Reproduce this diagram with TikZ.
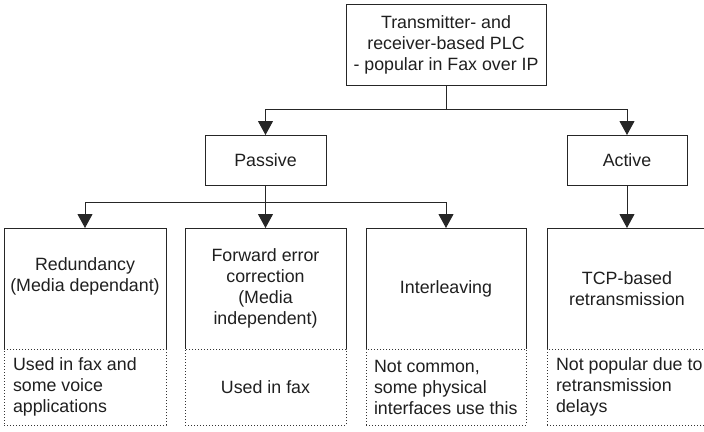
\documentclass[tikz,border=0pt]{standalone}
\usepackage{fontspec}
\setmainfont{Liberation Sans}
\usetikzlibrary{arrows.meta}
\begin{document}
\begin{tikzpicture}[x=1pt,y=-1pt,
  every node/.style={inner sep=0pt, outer sep=0pt, text=black!88,
    font=\fontsize{17.8}{21}\selectfont},
  box/.style={draw=black!85, line width=1pt, rectangle, align=center},
  upbox/.style={rectangle, minimum width=#1, minimum height=121},
  lowbox/.style={draw=black!80, dotted, line width=1pt, rectangle,
    minimum width=#1, minimum height=76},
  txt/.style={align=center},
  ltxt/.style={align=left, anchor=west},
  link/.style={draw=black!85, line width=1pt,
    -{Triangle[width=15pt,length=14pt]}}
]
\clip (0,0) rectangle (704,431);
\useasboundingbox (0,0) rectangle (704,431);

% Root and the two families
\node[box, minimum width=200, minimum height=81] (root) at (446,44.5)
  {Transmitter- and\\receiver-based PLC\\- popular in Fax over IP};
\node[box, minimum width=121, minimum height=50] (passive) at (265.5,160) {Passive};
\node[box, minimum width=120, minimum height=50] (active) at (627,160) {Active};

% Technique boxes (solid top part)
\node[upbox=162] (red) at (85,288.5) {};
\node[upbox=161] (fec) at (265.5,288.5) {};
\node[upbox=160] (intl) at (446,288.5) {};
\node[upbox=160] (tcp) at (627,288.5) {};
\foreach \n in {red,fec,intl,tcp}
  \draw[black!85, line width=1pt]
    (\n.south west) -- (\n.north west) -- (\n.north east) -- (\n.south east);

\node[txt] (redt) at (85,276) {Redundancy\\(Media dependant)};
\node[txt] (fect) at (fec.center) {Forward error\\correction\\(Media\\independent)};
\node[txt] (intlt) at (intl.center) {Interleaving};
\node[txt] (tcpt) at (tcp.center) {TCP-based\\retransmission};

% Remarks (dotted bottom part)
\node[lowbox=162] (redn) at (85,387) {};
\node[lowbox=161] (fecn) at (265.5,387) {};
\node[lowbox=160] (intln) at (446,387) {};
\node[lowbox=160] (tcpn) at (627,387) {};

\node[ltxt] (rednt) at ([xshift=9]redn.west) {Used in fax and\\some voice\\applications};
\node[txt] (fecnt) at (fecn.center) {Used in fax};
\node[ltxt] (intlnt) at ([xshift=8]intln.west) {Not common,\\some physical\\interfaces use this};
\node[ltxt] (tcpnt) at ([xshift=9]tcpn.west) {Not popular due to\\retransmission\\delays};

% Connectors
\coordinate (j1) at (446,109);
\coordinate (j2) at (265.5,202.5);
\draw[black!85, line width=1pt] (root.south) -- (j1);
\draw[link] (j1) -| (passive.north);
\draw[link] (j1) -| (active.north);
\draw[black!85, line width=1pt] (passive.south) -- (j2);
\draw[link] (j2) -| (red.north);
\draw[link] (j2) -- (fec.north);
\draw[link] (j2) -| (intl.north);
\draw[link] (active.south) -- (tcp.north);
\end{tikzpicture}
\end{document}
